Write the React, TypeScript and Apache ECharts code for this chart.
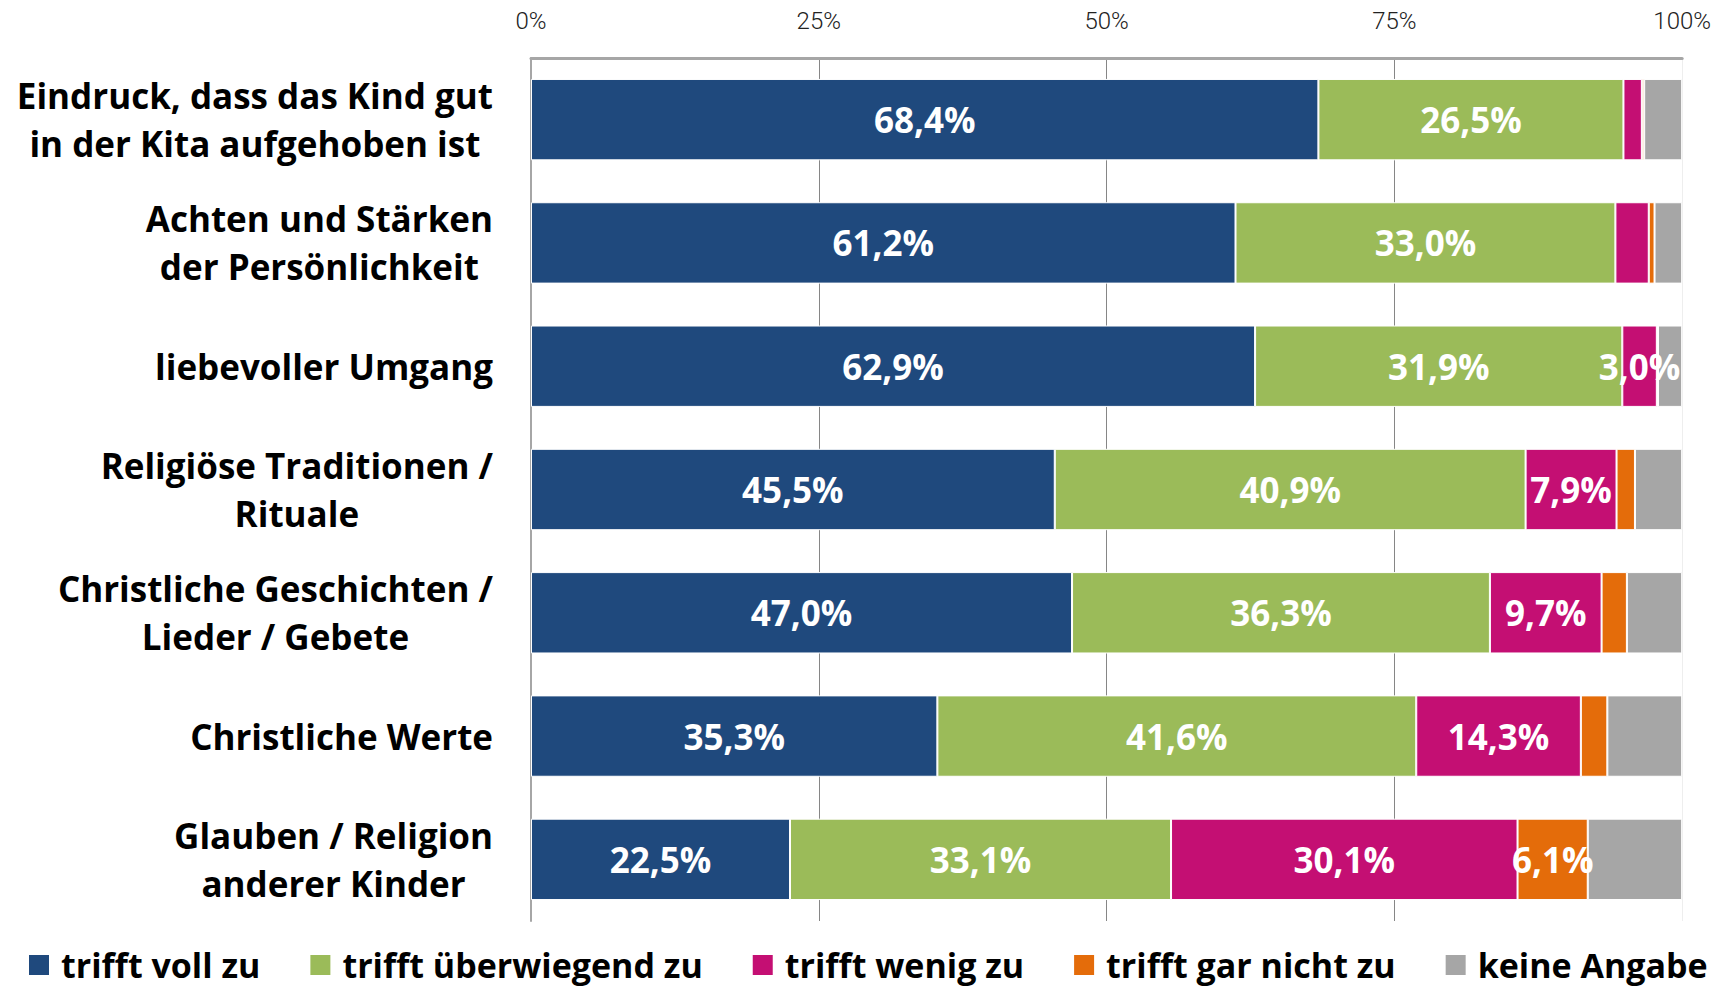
import React, { useEffect, useRef } from "react";
import * as echarts from "echarts";

const categories = [
  "Eindruck, dass das Kind gut\nin der Kita aufgehoben ist",
  "Achten und Stärken\nder Persönlichkeit",
  "liebevoller Umgang",
  "Religiöse Traditionen /\nRituale",
  "Christliche Geschichten /\nLieder / Gebete",
  "Christliche Werte",
  "Glauben / Religion\nanderer Kinder",
];

const seriesNames = [
  "trifft voll zu",
  "trifft überwiegend zu",
  "trifft wenig zu",
  "trifft gar nicht zu",
  "keine Angabe",
];

const trifftVoll = [68.4, 61.2, 62.9, 45.5, 47.0, 35.3, 22.5];
const trifftUeberwiegend = [26.5, 33.0, 31.9, 40.9, 36.3, 41.6, 33.1];
const trifftWenig = [1.6, 2.9, 3.0, 7.9, 9.7, 14.3, 30.1];
const trifftGarNicht = [0.2, 0.5, 0.1, 1.6, 2.2, 2.3, 6.1];
const keineAngabe = [3.3, 2.4, 2.1, 4.1, 4.8, 6.5, 8.2];

const tickValues = [0, 25, 50, 75, 100];

const colors = ["#1F497D", "#9BBB59", "#C40F73", "#E46C0A", "#A6A6A6"];
// minimal value for a data label per series (Infinity = never)
const labelThreshold = [0, 0, 3, 3, Infinity];

const FONT = "'Open Sans', 'DejaVu Sans', sans-serif";

export default function App() {
  const ref = useRef<HTMLDivElement>(null);

  useEffect(() => {
    if (!ref.current) return;
    const chart = echarts.init(ref.current, undefined, { renderer: "svg" });
    const allData = [trifftVoll, trifftUeberwiegend, trifftWenig, trifftGarNicht, keineAngabe];

    const series = allData.map((arr, si) => ({
      name: seriesNames[si],
      type: "bar",
      stack: "total",
      barWidth: "66%",
      itemStyle: { color: colors[si], borderColor: "#ffffff", borderWidth: 1 },
      label: {
        show: true,
        position: "inside",
        color: "#ffffff",
        fontFamily: FONT,
        fontWeight: "bold",
        fontSize: 35,
        formatter: (p: any) => p.value.toFixed(1).replace(".", ",") + "%",
      },
      data: arr.map((v) => ({
        value: v,
        label: { show: v >= labelThreshold[si] },
      })),
    }));

    chart.setOption({
      animation: false,
      backgroundColor: "#ffffff",
      color: colors,
      grid: { left: 531, right: 31, top: 58, bottom: 70, containLabel: false },
      legend: {
        left: 27,
        top: 947,
        width: 1700,
        padding: 0,
        itemWidth: 22,
        itemHeight: 22,
        itemGap: 48,
        icon: "rect",
        data: seriesNames,
        textStyle: {
          fontFamily: FONT,
          fontWeight: "bold",
          fontSize: 34,
          lineHeight: 36,
          color: "#000000",
          padding: [0, 0, 0, 6],
        },
      },
      xAxis: {
        type: "value",
        position: "top",
        min: tickValues[0],
        max: tickValues[tickValues.length - 1],
        interval: 25,
        axisLine: { show: true, lineStyle: { color: "#A6A6A6", width: 3 } },
        axisTick: { show: false },
        axisLabel: {
          margin: 25,
          fontFamily: "Roboto, 'Liberation Sans', sans-serif",
          fontWeight: 300,
          fontSize: 24,
          color: "#222222",
          formatter: "{value}%",
        },
        splitLine: {
          show: true,
          lineStyle: {
            color: ["#A6A6A6", "#868686", "#868686", "#868686", "#EEEEEE"],
            width: 1,
          },
        },
      },
      yAxis: {
        type: "category",
        inverse: true,
        data: categories,
        axisLine: { show: true, lineStyle: { color: "#A6A6A6", width: 2 } },
        axisTick: { show: false },
        axisLabel: {
          margin: 38,
          align: "right",
          formatter: (v: string) =>
            v
              .split("\n")
              .map((l) => `{c|${l}}`)
              .join("\n"),
          rich: {
            c: {
              align: "center",
              fontFamily: FONT,
              fontWeight: "bold",
              fontSize: 35,
              lineHeight: 48,
              color: "#000000",
            },
          },
        },
      },
      series,
    });

    return () => chart.dispose();
  }, []);

  return (
    <div
      ref={ref}
      style={{ position: "fixed", left: 0, top: 0, width: 1714, height: 991 }}
    />
  );
}
